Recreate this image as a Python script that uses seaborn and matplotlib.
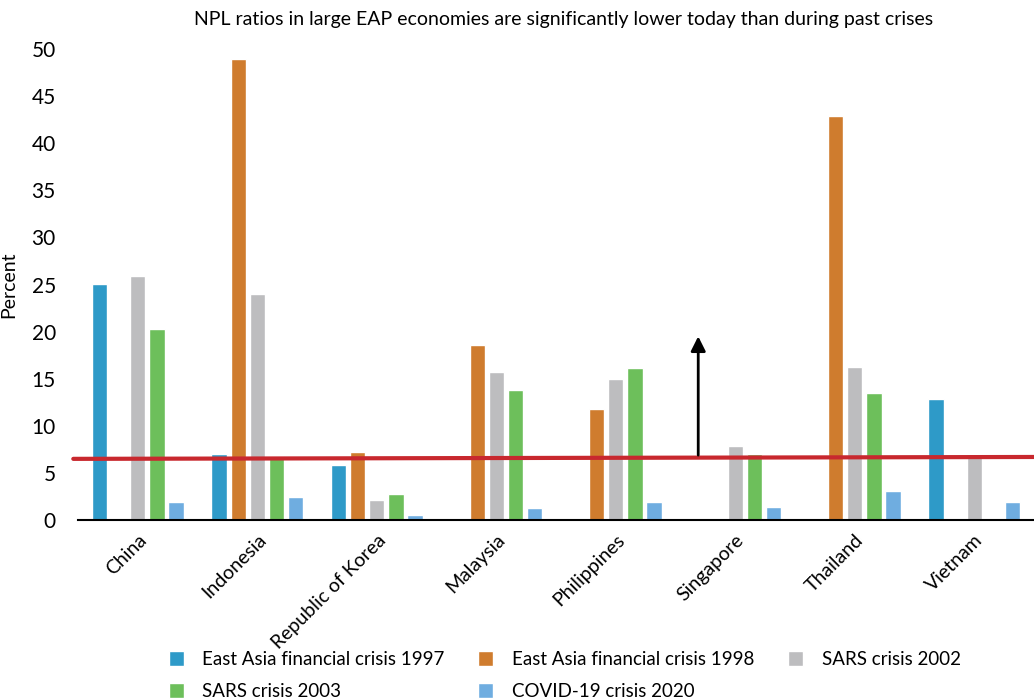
import matplotlib.pyplot as plt
import seaborn as sns
import pandas as pd
import numpy as np

countries = ["China", "Indonesia", "Republic of Korea", "Malaysia",
             "Philippines", "Singapore", "Thailand", "Vietnam"]
crises = ["East Asia financial crisis 1997", "East Asia financial crisis 1998",
          "SARS crisis 2002", "SARS crisis 2003", "COVID-19 crisis 2020"]

crisis_1997 = [25.1, 7.0, 5.8, np.nan, np.nan, np.nan, np.nan, 12.9]
crisis_1998 = [np.nan, 48.9, 7.2, 18.6, 11.8, np.nan, 42.9, np.nan]
sars_2002 = [25.9, 24.0, 2.1, 15.7, 15.0, 7.9, 16.3, 7.0]
sars_2003 = [20.3, 6.8, 2.8, 13.8, 16.1, 7.0, 13.5, np.nan]
covid_2020 = [1.9, 2.4, 0.5, 1.3, 1.9, 1.4, 3.1, 1.9]

# red reference line (current level) and arrow
ref_line_start = 6.5
ref_line_end = 6.7
arrow_base = 6.6
arrow_tip = 19.8

colors = ["#2E9AC8", "#CF7C2E", "#BDBDBF", "#6DBF5B", "#6FADE0"]

series = [crisis_1997, crisis_1998, sars_2002, sars_2003, covid_2020]
rows = []
for crisis, vals in zip(crises, series):
    for c, v in zip(countries, vals):
        rows.append({"country": c, "crisis": crisis, "value": v})
df = pd.DataFrame(rows)

sns.set_style("white")
plt.rcParams["font.family"] = ["Lato", "DejaVu Sans"]
plt.rcParams["text.color"] = "black"
plt.rcParams["xtick.color"] = "black"
plt.rcParams["ytick.color"] = "black"
plt.rcParams["axes.labelcolor"] = "black"

fig = plt.figure(figsize=(10.34, 7), dpi=100)
ax = fig.add_axes([0.0755, 0.257, 0.9245, 0.673])

sns.barplot(data=df, x="country", y="value", hue="crisis",
            order=countries, hue_order=crises, palette=colors,
            width=0.8, gap=0.2, ax=ax, legend=True, errorbar=None,
            saturation=1)

ax.set_xlim(-0.5, 7.5)
ax.set_ylim(0, 50)
ax.set_yticks(range(0, 51, 5))
ax.tick_params(axis="y", length=0, pad=16, labelsize=15)
ax.tick_params(axis="x", length=0, pad=8, labelsize=14)
plt.setp(ax.get_xticklabels(), rotation=45, ha="right", rotation_mode="anchor")
ax.set_xlabel("")
ax.set_ylabel("Percent", fontsize=14, labelpad=10)
for s in ["top", "right", "left"]:
    ax.spines[s].set_visible(False)
ax.spines["bottom"].set_color("black")
ax.spines["bottom"].set_linewidth(1.5)

ax.plot([-0.54, 7.5], [ref_line_start, ref_line_end], color="#C8282E",
        lw=3, clip_on=False, zorder=5)
ax.annotate("", xy=(4.69, arrow_tip), xytext=(4.69, arrow_base),
            arrowprops=dict(arrowstyle="-|>", color="black", lw=2,
                            mutation_scale=22), zorder=6)

fig.suptitle("NPL ratios in large EAP economies are significantly lower today than during past crises",
             fontsize=14, x=0.545, y=0.985)

handles, labels = ax.get_legend_handles_labels()
ax.get_legend().remove()
idx = [0, 3, 1, 4, 2]
fig.legend([handles[i] for i in idx], [labels[i] for i in idx], ncol=3,
           loc="upper left", bbox_to_anchor=(0.163, 0.07), frameon=False,
           fontsize=13.5, handlelength=0.8, handleheight=0.8, columnspacing=1.8,
           handletextpad=1.0, labelspacing=0.8, borderaxespad=0, borderpad=0)

fig.savefig("out.png", dpi=100)
